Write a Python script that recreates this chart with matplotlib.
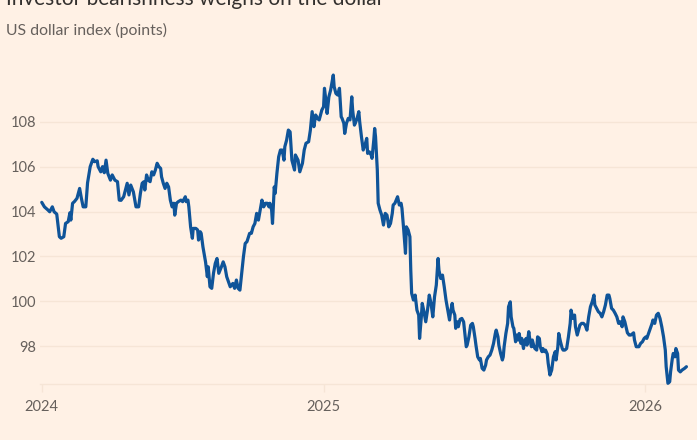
import matplotlib
matplotlib.use("Agg")
import matplotlib.pyplot as plt
import pandas as pd

title = "Investor bearishness weighs on the dollar"
subtitle = "US dollar index (points)"

dates = [
    "2024-02-16", "2024-02-19", "2024-02-23", "2024-02-25", "2024-02-28",
    "2024-03-01", "2024-03-04", "2024-03-07", "2024-03-09", "2024-03-12", "2024-03-14", "2024-03-17",
    "2024-03-19", "2024-03-20", "2024-03-22", "2024-03-24", "2024-03-27", "2024-03-30",
    "2024-04-01", "2024-04-03", "2024-04-06", "2024-04-08", "2024-04-11", "2024-04-14", "2024-04-16",
    "2024-04-19", "2024-04-20", "2024-04-23", "2024-04-25", "2024-04-27", "2024-04-29",
    "2024-05-01", "2024-05-04", "2024-05-06", "2024-05-09", "2024-05-12", "2024-05-14", "2024-05-16",
    "2024-05-19", "2024-05-21", "2024-05-23", "2024-05-25", "2024-05-27", "2024-05-30", "2024-05-31",
    "2024-06-02", "2024-06-05", "2024-06-07", "2024-06-09", "2024-06-11", "2024-06-12", "2024-06-14",
    "2024-06-16", "2024-06-18", "2024-06-20", "2024-06-22", "2024-06-24", "2024-06-26", "2024-06-28",
    "2024-06-30",
    "2024-07-01", "2024-07-03", "2024-07-05", "2024-07-07", "2024-07-09", "2024-07-11", "2024-07-13",
    "2024-07-15", "2024-07-16", "2024-07-18", "2024-07-20", "2024-07-23", "2024-07-25", "2024-07-28",
    "2024-07-29", "2024-07-31",
    "2024-08-01", "2024-08-03", "2024-08-05", "2024-08-06", "2024-08-09", "2024-08-11", "2024-08-12",
    "2024-08-14", "2024-08-15", "2024-08-17", "2024-08-19", "2024-08-20", "2024-08-22", "2024-08-23",
    "2024-08-25", "2024-08-27", "2024-08-29", "2024-08-31",
    "2024-09-02", "2024-09-04", "2024-09-07", "2024-09-09", "2024-09-11", "2024-09-13", "2024-09-15",
    "2024-09-17", "2024-09-20", "2024-09-22", "2024-09-24", "2024-09-26", "2024-09-28", "2024-09-30",
    "2024-10-02", "2024-10-04", "2024-10-06", "2024-10-09", "2024-10-11", "2024-10-13", "2024-10-15",
    "2024-10-17", "2024-10-19", "2024-10-21", "2024-10-23", "2024-10-25", "2024-10-27", "2024-10-29",
    "2024-10-31",
    "2024-11-01", "2024-11-03", "2024-11-04", "2024-11-06", "2024-11-07", "2024-11-09", "2024-11-11",
    "2024-11-13", "2024-11-15", "2024-11-17", "2024-11-18", "2024-11-20", "2024-11-22", "2024-11-24",
    "2024-11-26", "2024-11-29", "2024-11-30",
    "2024-12-03", "2024-12-05", "2024-12-08", "2024-12-10", "2024-12-12", "2024-12-15", "2024-12-17",
    "2024-12-19", "2024-12-21", "2024-12-23", "2024-12-25", "2024-12-27", "2024-12-30",
    "2025-01-01", "2025-01-02", "2025-01-04", "2025-01-05", "2025-01-07", "2025-01-09", "2025-01-12",
    "2025-01-13", "2025-01-15", "2025-01-17", "2025-01-19", "2025-01-21", "2025-01-22", "2025-01-24",
    "2025-01-25", "2025-01-27", "2025-01-29", "2025-01-31",
    "2025-02-02", "2025-02-03", "2025-02-05", "2025-02-06", "2025-02-08", "2025-02-10", "2025-02-11",
    "2025-02-13", "2025-02-15", "2025-02-17", "2025-02-19", "2025-02-20", "2025-02-22", "2025-02-24",
    "2025-02-25", "2025-02-27", "2025-02-28",
    "2025-03-01", "2025-03-03", "2025-03-04", "2025-03-06", "2025-03-08", "2025-03-10", "2025-03-12",
    "2025-03-14", "2025-03-16", "2025-03-18", "2025-03-20", "2025-03-21", "2025-03-23", "2025-03-26",
    "2025-03-28", "2025-03-30", "2025-03-31",
    "2025-04-02", "2025-04-04", "2025-04-05", "2025-04-07", "2025-04-09", "2025-04-10", "2025-04-11",
    "2025-04-13", "2025-04-15", "2025-04-17", "2025-04-19", "2025-04-20", "2025-04-22", "2025-04-23",
    "2025-04-25", "2025-04-27", "2025-04-29",
    "2025-05-01", "2025-05-03", "2025-05-05", "2025-05-07", "2025-05-09", "2025-05-11", "2025-05-12",
    "2025-05-14", "2025-05-16", "2025-05-18", "2025-05-20", "2025-05-22", "2025-05-24", "2025-05-25",
    "2025-05-27", "2025-05-28", "2025-05-30", "2025-05-31",
    "2025-06-02", "2025-06-03", "2025-06-05", "2025-06-07", "2025-06-09", "2025-06-10", "2025-06-12",
    "2025-06-13", "2025-06-15", "2025-06-17", "2025-06-19", "2025-06-20", "2025-06-22", "2025-06-23",
    "2025-06-25", "2025-06-27", "2025-06-28", "2025-06-30",
    "2025-07-02", "2025-07-04", "2025-07-05", "2025-07-07", "2025-07-09", "2025-07-11", "2025-07-13",
    "2025-07-15", "2025-07-16", "2025-07-18", "2025-07-19", "2025-07-21", "2025-07-23", "2025-07-24",
    "2025-07-25", "2025-07-27", "2025-07-29", "2025-07-30",
    "2025-08-01", "2025-08-02", "2025-08-04", "2025-08-05", "2025-08-07", "2025-08-08", "2025-08-10",
    "2025-08-11", "2025-08-13", "2025-08-14", "2025-08-16", "2025-08-17", "2025-08-19", "2025-08-20",
    "2025-08-22", "2025-08-23", "2025-08-25", "2025-08-26", "2025-08-28", "2025-08-29", "2025-08-31",
    "2025-09-01", "2025-09-03", "2025-09-04", "2025-09-06", "2025-09-07", "2025-09-09", "2025-09-10",
    "2025-09-12", "2025-09-13", "2025-09-15", "2025-09-17", "2025-09-19", "2025-09-21", "2025-09-22",
    "2025-09-24", "2025-09-25", "2025-09-27", "2025-09-29", "2025-09-30",
    "2025-10-02", "2025-10-04", "2025-10-06", "2025-10-08", "2025-10-09", "2025-10-11", "2025-10-13",
    "2025-10-14", "2025-10-16", "2025-10-17", "2025-10-19", "2025-10-21", "2025-10-23", "2025-10-25",
    "2025-10-27", "2025-10-29", "2025-10-31",
    "2025-11-02", "2025-11-04", "2025-11-05", "2025-11-07", "2025-11-09", "2025-11-11", "2025-11-13",
    "2025-11-15", "2025-11-17", "2025-11-19", "2025-11-21", "2025-11-22", "2025-11-24", "2025-11-26",
    "2025-11-28", "2025-11-30",
    "2025-12-02", "2025-12-04", "2025-12-06", "2025-12-07", "2025-12-09", "2025-12-12", "2025-12-14",
    "2025-12-16", "2025-12-19", "2025-12-20", "2025-12-22", "2025-12-25", "2025-12-27", "2025-12-29",
    "2025-12-31",
    "2026-01-02", "2026-01-03", "2026-01-05", "2026-01-07", "2026-01-09", "2026-01-10", "2026-01-12",
    "2026-01-14", "2026-01-16", "2026-01-18", "2026-01-20", "2026-01-22", "2026-01-24", "2026-01-25",
    "2026-01-27", "2026-01-29", "2026-01-30",
    "2026-02-01", "2026-02-02", "2026-02-04", "2026-02-05", "2026-02-07", "2026-02-08", "2026-02-10",
    "2026-02-12", "2026-02-15", "2026-02-17",
]

values = [
    104.41, 104.21, 104.07, 103.99, 104.21,
    103.99, 103.89, 102.88, 102.81, 102.88, 103.47, 103.55,
    103.95, 103.62, 104.37, 104.44, 104.59, 105.03,
    104.59, 104.21, 104.21, 105.28, 106.00, 106.33, 106.22,
    106.26, 106.00, 105.77, 106.00, 105.73, 106.29,
    105.70, 105.40, 105.63, 105.40, 105.33, 104.51, 104.50,
    104.66, 104.96, 105.26, 104.74, 105.18, 104.88, 104.66,
    104.21, 104.21, 104.81, 105.26, 105.33, 104.96, 105.63,
    105.40, 105.33, 105.77, 105.63, 105.85, 106.15, 106.00,
    105.92,
    105.55, 105.26, 105.03, 105.26, 105.10, 104.51, 104.21,
    104.37, 103.84, 104.37, 104.44, 104.51, 104.44, 104.66,
    104.44, 104.51,
    104.21, 103.32, 102.81, 103.25, 103.25, 103.18, 102.73,
    103.10, 103.03, 102.43, 101.99, 101.75, 101.10, 101.54,
    100.65, 100.58, 101.25, 101.69,
    101.91, 101.25, 101.54, 101.76, 101.54, 101.10, 100.87,
    100.65, 100.80, 100.58, 100.95, 100.58, 100.50, 101.25,
    101.99, 102.58, 102.66, 103.03, 103.03, 103.32, 103.47,
    103.92, 103.62, 104.07, 104.51, 104.21, 104.37, 104.37,
    104.21,
    104.37, 104.07, 103.47, 105.10, 104.81, 105.70, 106.44,
    106.74, 106.74, 106.29, 106.89, 107.18, 107.63, 107.55,
    106.29, 105.85, 106.52,
    106.29, 105.77, 106.15, 106.74, 107.04, 107.11, 107.63,
    108.45, 107.78, 108.30, 108.15, 108.08, 108.52,
    108.67, 109.49, 108.82, 108.37, 109.11, 109.41, 110.08,
    109.56, 109.26, 109.19, 109.49, 108.22, 108.15, 107.93,
    107.48, 107.93, 108.15, 108.08,
    109.11, 108.52, 107.85, 107.93, 108.15, 108.45, 108.00,
    107.33, 106.74, 106.96, 107.26, 106.59, 106.66, 106.52,
    106.37, 107.18, 107.70,
    107.33, 105.85, 104.37, 104.07, 103.84, 103.40, 103.92,
    103.84, 103.32, 103.47, 103.92, 104.29, 104.37, 104.66,
    104.29, 104.37, 104.14,
    103.18, 102.14, 103.32, 103.18, 102.88, 101.39, 100.36,
    100.06, 100.28, 99.61, 99.39, 98.35, 99.31, 99.91,
    99.54, 99.09, 99.61,
    100.28, 99.91, 99.31, 100.21, 100.73, 101.91, 101.39,
    101.02, 101.17, 100.65, 100.06, 99.61, 99.17, 99.47,
    99.91, 99.61, 99.39, 98.80,
    99.09, 98.87, 99.20, 99.24, 99.09, 98.72, 97.98,
    98.05, 98.42, 98.94, 99.02, 98.87, 98.35, 98.05,
    97.53, 97.39, 97.46, 97.02,
    96.94, 97.16, 97.39, 97.53, 97.61, 97.83, 98.13,
    98.57, 98.72, 98.42, 98.05, 97.68, 97.39, 97.53,
    97.98, 98.57, 99.02, 99.76,
    99.98, 99.31, 98.87, 98.80, 98.20, 98.50, 98.28,
    98.57, 98.13, 98.35, 97.90, 98.20, 98.35, 98.05,
    98.65, 98.35, 97.98, 98.28, 97.98, 97.90, 97.83,
    98.42, 98.35, 97.98, 97.76, 97.90, 97.76, 97.83,
    97.65, 97.25, 96.72, 96.94, 97.53, 97.76, 97.39,
    97.98, 98.57, 98.20, 97.90, 97.83,
    97.83, 97.90, 98.42, 99.02, 99.61, 99.24, 99.39,
    98.87, 98.50, 98.65, 98.94, 99.02, 99.02, 98.94,
    98.72, 99.31, 99.76,
    99.98, 100.28, 99.84, 99.69, 99.54, 99.47, 99.31,
    99.54, 99.84, 100.28, 100.28, 100.13, 99.69, 99.61,
    99.47, 99.31,
    99.02, 99.09, 98.87, 99.31, 99.10, 98.60, 98.50,
    98.50, 98.60, 98.28, 97.98, 97.98, 98.13, 98.20,
    98.35,
    98.42, 98.35, 98.57, 98.80, 99.02, 99.17, 99.02,
    99.39, 99.47, 99.24, 98.87, 98.42, 97.83, 97.09,
    96.35, 96.42, 96.86,
    97.46, 97.68, 97.53, 97.90, 97.68, 96.94, 96.86,
    96.94, 97.02, 97.09,
]

y_ticks = [98, 100, 102, 104, 106, 108]
x_tick_dates = ["2024-02-16", "2025-01-01", "2026-01-01"]
x_tick_labels = ["2024", "2025", "2026"]

BG = "#FFF1E5"
GRID = "#F6E5D6"
LINE = "#0F5499"
TEXT = "#66605C"
TITLE = "#33302E"
FONT = ["Lato", "DejaVu Sans"]

plt.rcParams["font.family"] = FONT

W, H = 697, 440
fig = plt.figure(figsize=(W / 100, H / 100), dpi=100, facecolor=BG)
ax = fig.add_axes([40 / W, (H - 384) / H, (W - 40) / W, (384 - 60) / H])
ax.set_facecolor(BG)

ax.plot(pd.to_datetime(dates), values, color=LINE, lw=2.3,
        solid_joinstyle="round", solid_capstyle="round", clip_on=False, zorder=3)

ax.set_xlim(pd.Timestamp("2024-02-14"), pd.Timestamp("2026-03-01"))
ax.set_ylim(96.32, 110.75)

ax.set_yticks(y_ticks)
ax.set_yticklabels([str(t) for t in y_ticks])
ax.yaxis.grid(True, color=GRID, lw=1, zorder=0)
ax.tick_params(axis="y", length=0, pad=2.9, labelcolor=TEXT, labelsize=10.5)

ax.set_xticks(pd.to_datetime(x_tick_dates))
ax.set_xticklabels(x_tick_labels)
ax.tick_params(axis="x", length=5.8, width=1, color=GRID, pad=6,
               labelcolor=TEXT, labelsize=10.5)

for s in ["top", "right", "left"]:
    ax.spines[s].set_visible(False)
ax.spines["bottom"].set_color(GRID)
ax.spines["bottom"].set_linewidth(1)

fig.text(6 / W, 1 - 5 / H, title, va="baseline", ha="left",
         fontsize=15, color=TITLE)
fig.text(6 / W, 1 - 35 / H, subtitle, va="baseline", ha="left",
         fontsize=11.4, color=TEXT)

fig.savefig("out.png", dpi=100, facecolor=BG)
